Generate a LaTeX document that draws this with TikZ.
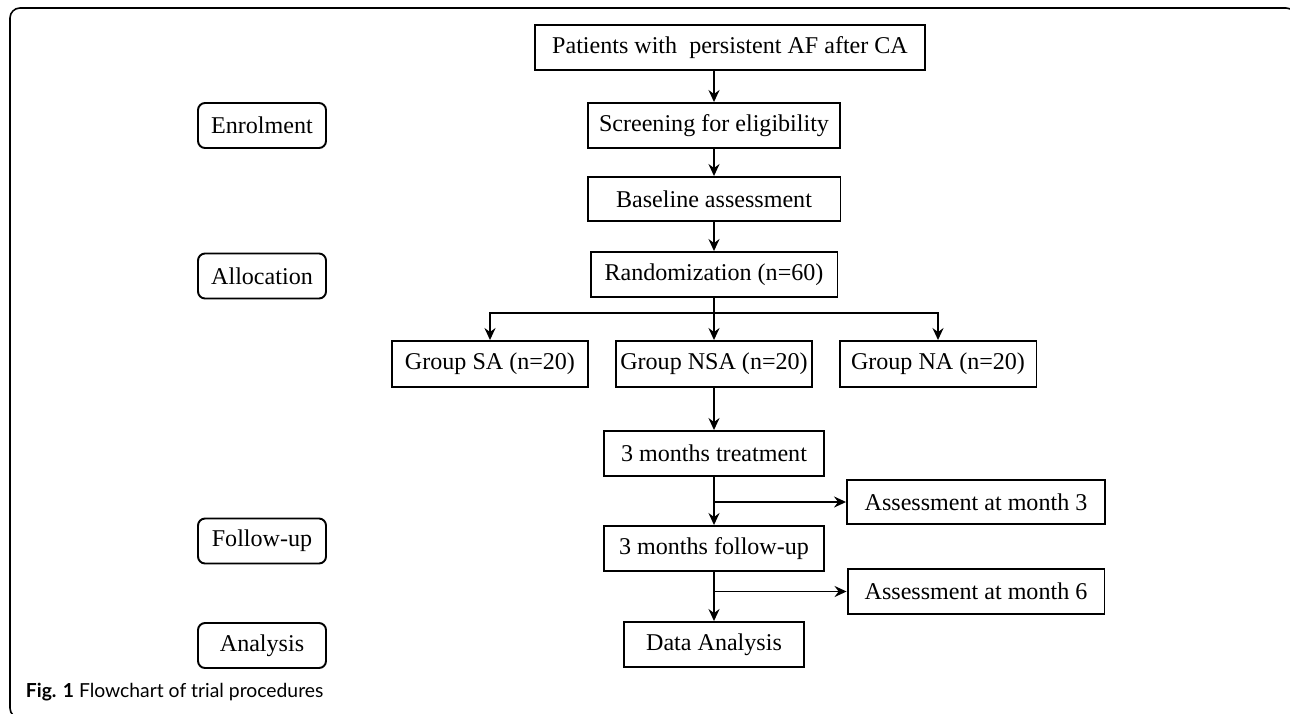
\documentclass[tikz,border=0pt]{standalone}
\usepackage{fontspec}
\setmainfont{Liberation Serif}
\newfontfamily\capfont{Lato}
\usepackage{tikz}
\usetikzlibrary{positioning,arrows.meta}

\begin{document}
\begin{tikzpicture}[x=0.02cm, y=-0.02cm, line width=1.1pt,
    box/.style={draw, rectangle, inner sep=0pt, minimum height=0.9cm, font=\fontsize{13.7}{16}\selectfont},
    stage/.style={box, rounded corners=0.14cm, minimum width=2.56cm},
    arr/.style={-{Stealth[length=0.24cm, width=0.22cm, inset=0.08cm]}}]
    \useasboundingbox (0,0) rectangle (1290,713);
    % Frame
    \draw[line width=0.9pt, rounded corners=0.2cm] (10,8) rectangle (1296,718);

    % Stages
    \node[stage] (enrol) at (262,125.5) {Enrolment};
    \node[stage] (alloc) at (262,276) {Allocation};
    \node[stage] (fup) at (262,541) {Follow-up};
    \node[stage] (anal) at (262,645.5) {Analysis};

    % Components
    \node[box, minimum width=7.8cm] (patients) at (730,47.5) {Patients with~ persistent AF after CA};
    \node[box, minimum width=5.04cm] (screen) at (714,125.5) {Screening for eligibility};
    \node[box, minimum width=5.06cm, minimum height=0.88cm] (base) at (714,199) {Baseline assessment};
    \node[box, minimum width=4.94cm] (random) at (714,274.5) {Randomization (n=60)};
    \node[box, minimum width=3.92cm, minimum height=0.92cm] (sa) at (490,364) {Group SA (n=20)};
    \node[box, minimum width=3.92cm, minimum height=0.92cm] (nsa) at (714,364) {Group NSA (n=20)};
    \node[box, minimum width=3.94cm, minimum height=0.92cm] (na) at (938,364) {Group NA (n=20)};
    \node[box, minimum width=4.4cm] (treat) at (714,453.5) {3 months treatment};
    \node[box, minimum width=5.16cm, minimum height=0.88cm] (month3) at (976,502) {Assessment at month 3};
    \node[box, minimum width=4.4cm] (follow) at (714,548.5) {3 months follow-up};
    \node[box, minimum width=5.14cm] (month6) at (976,591.5) {Assessment at month 6};
    \node[box, minimum width=3.6cm] (data) at (714,644.5) {Data Analysis};

    % Flow
    \draw[arr] (patients.south -| screen.north) -- (screen.north);
    \draw[arr] (screen) -- (base);
    \draw[arr] (base) -- (random);
    \draw[arr] (random) -- (nsa);
    \coordinate (split) at (714,313);
    \draw[arr] (split) -| (sa);
    \draw[arr] (split) -| (na);
    \draw[arr] (nsa) -- (treat);
    \draw[arr] (treat) -- (follow);
    \draw[arr] (follow) -- (data);
    \draw[arr] (month3.west -| treat.south) -- (month3.west);
    \draw[arr] (month6.west -| follow.south) -- (month6.west);

    % Caption
    \node[anchor=base west, inner sep=0pt, font=\capfont\fontsize{11}{13}\selectfont] (caption) at (25,697)
        {\textbf{Fig. 1} Flowchart of trial procedures};
\end{tikzpicture}
\end{document}
